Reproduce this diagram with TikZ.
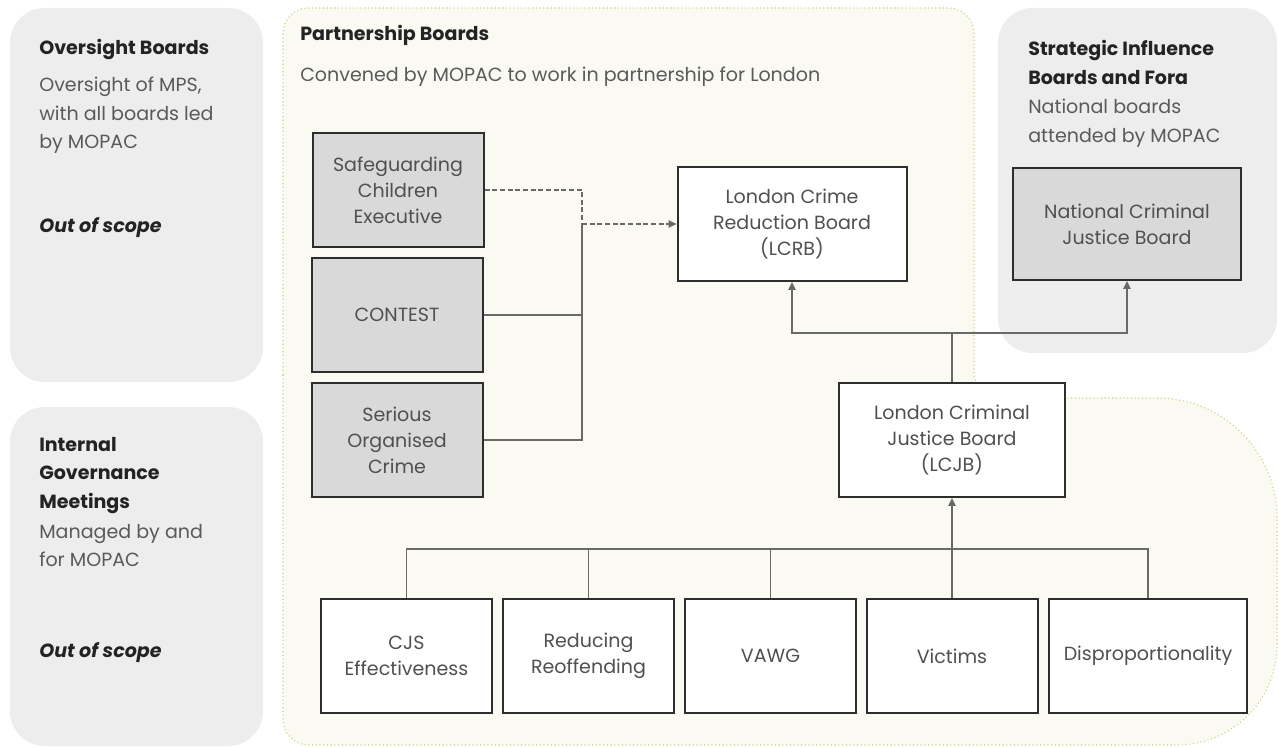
\documentclass[tikz,border=0pt]{standalone}
\usepackage{fontspec}
\setmainfont{Poppins}
\usepackage{xcolor}
\usetikzlibrary{arrows.meta}

\definecolor{panelgray}{RGB}{237,237,237}
\definecolor{boxgray}{RGB}{217,217,217}
\definecolor{partfill}{RGB}{250,250,243}
\definecolor{partline}{RGB}{200,208,120}
\definecolor{linkgray}{RGB}{105,105,105}
\definecolor{edgedark}{RGB}{45,45,45}
\definecolor{headtext}{RGB}{35,35,35}
\definecolor{bodytext}{RGB}{90,90,90}
\definecolor{boxtext}{RGB}{80,80,80}

\newcommand\headfont{\fontsize{14.3}{21.4}\selectfont\bfseries}
\newcommand\bodyfont{\fontsize{14.3}{21.4}\selectfont}
\newcommand\boxfont{\fontsize{14.3}{19.5}\selectfont}

\tikzset{
  panel/.style={fill=panelgray, rounded corners=26pt},
  board/.style={draw=edgedark, line width=1.5pt, fill=white, align=center, inner sep=0pt,
    text=boxtext, font=\boxfont, minimum width=128.25pt, minimum height=85.5pt},
  greyboard/.style={board, fill=boxgray},
  link/.style={draw=linkgray, line width=1.1pt},
  linkarrow/.style={link, -{Triangle[length=6pt,width=5.5pt]}},
  headtxt/.style={anchor=north west, inner sep=0pt, align=left, text=headtext, font=\headfont},
  bodytxt/.style={anchor=north west, inner sep=0pt, align=left, text=bodytext, font=\bodyfont},
}

\begin{document}
\begin{tikzpicture}[x=0.75pt,y=0.75pt,yscale=-1,xscale=1]
\useasboundingbox (0,0) rectangle (1279,748);

%Side panels
\fill[panel] (10,8) rectangle (263,382);
\fill[panel] (10,407) rectangle (263,746);
\fill[panel] (998,8) rectangle (1277,353);

%Partnership area
\draw[partline, dotted, fill=partfill, line width=0.8pt, rounded corners=19pt]
  (283,400) -- (283,8) -- (974,8) -- (974,398) [rounded corners=90pt] -- (1277,398)
  [rounded corners=75pt] -- (1277,745) [rounded corners=19pt] -- (283,745) -- cycle;

% Text Node
\node[headtxt] (ovtitle) at (39,39) {Oversight Boards};
% Text Node
\node[bodytxt] (ovnote) at (39,77) {Oversight of MPS,\\with all boards led\\by MOPAC};
% Text Node
\node[headtxt, font=\headfont\itshape] (ovscope) at (39,217) {Out of scope};
% Text Node
\node[headtxt] (igtitle) at (39,437) {Internal\\Governance\\Meetings};
% Text Node
\node[bodytxt] (ignote) at (39,524) {Managed by and\\for MOPAC};
% Text Node
\node[headtxt, font=\headfont\itshape] (igscope) at (39,642) {Out of scope};
% Text Node
\node[headtxt] (pbtitle) at (300,25) {Partnership Boards};
% Text Node
\node[bodytxt] (pbnote) at (300,67) {Convened by MOPAC to work in partnership for London};
% Text Node
\node[headtxt] (sititle) at (1028,40) {Strategic Influence\\Boards and Fora};
% Text Node
\node[bodytxt] (sinote) at (1028,99) {National boards\\attended by MOPAC};

%Boards
\node[greyboard] (sce) at (398,190) {Safeguarding\\Children\\Executive};
\node[greyboard] (contest) at (397,315) {CONTEST};
\node[greyboard] (soc) at (397,440) {Serious\\Organised\\Crime};
\node[board, minimum width=171.75pt] (lcrb) at (792,224) {London Crime\\Reduction Board\\(LCRB)};
\node[greyboard, minimum width=171pt, minimum height=84pt] (ncjb) at (1127,224) {National Criminal\\Justice Board};
\node[board, minimum width=169.5pt] (lcjb) at (952,440) {London Criminal\\Justice Board\\(LCJB)};

\node[board] (cjs) at (406.5,656) {CJS\\Effectiveness};
\node[board] (reoff) at (588.5,656) {Reducing\\Reoffending};
\node[board] (vawg) at (770.5,656) {VAWG};
\node[board] (victims) at (952,656) {Victims};
\node[board, minimum width=148.5pt] (disprop) at (1148,656) {Disproportionality};

%Connectors
\coordinate (merge) at (582,224);
\coordinate (split) at (952,333);
\coordinate (bus) at (952,549);

\draw[link, dash pattern=on 3.75pt off 2pt] (sce.east) -| (merge);
\draw[linkarrow, dash pattern=on 3.75pt off 2pt] (merge) -- (lcrb.west);
\draw[link] (contest.east) -| (merge);
\draw[link] (soc.east) -| (merge);

\draw[linkarrow] (lcjb.north) -- (split) -| (lcrb.south);
\draw[linkarrow] (split) -| (ncjb.south);

\draw[linkarrow] (victims.north) -- (lcjb.south);
\draw[link] (cjs.north) |- (bus);
\draw[link] (disprop.north) |- (bus);
\draw[link] (reoff.north) -- (reoff.north |- bus);
\draw[link] (vawg.north) -- (vawg.north |- bus);

\end{tikzpicture}
\end{document}
